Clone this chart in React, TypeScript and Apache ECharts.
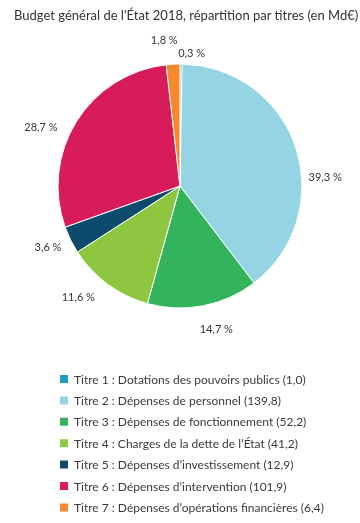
import React, { useEffect, useRef } from "react";
import * as echarts from "echarts";

const titleText = "Budget général de l'État 2018, répartition par titres (en Md€)";
const categories = [
  "Titre 1 : Dotations des pouvoirs publics",
  "Titre 2 : Dépenses de personnel",
  "Titre 3 : Dépenses de fonctionnement",
  "Titre 4 : Charges de la dette de l’État",
  "Titre 5 : Dépenses d’investissement",
  "Titre 6 : Dépenses d’intervention",
  "Titre 7 : Dépenses d’opérations financières",
];
const values = [1.0, 139.8, 52.2, 41.2, 12.9, 101.9, 6.4];
const colors = ["#1a9fc0", "#94d4e3", "#33b45c", "#8dc63f", "#0d4b6e", "#d81c5b", "#f6892b"];
// label nudges (style only), in px
const labelShift: [number, number][] = [
  [-8, -4],
  [0, 31],
  [-10, 15],
  [-3, 6],
  [3, 3],
  [-7, 9],
  [10, -17],
];

const fmt = (v: number, d: number) => v.toFixed(d).replace(".", ",");

export default function App() {
  const ref = useRef<HTMLDivElement>(null);
  useEffect(() => {
    if (!ref.current) return;
    const chart = echarts.init(ref.current, null, { renderer: "svg" });
    const data = categories.map((c, i) => ({ name: c, value: values[i], itemStyle: { color: colors[i] } }));
    chart.setOption({
      animation: false,
      textStyle: { fontFamily: "Lato" },
      title: {
        text: titleText,
        left: 9,
        top: 3,
        textStyle: { fontFamily: "Lato", fontSize: 13, fontWeight: "normal", color: "#333" },
      },
      legend: {
        orient: "vertical",
        left: 53,
        top: 368,
        itemWidth: 10,
        itemHeight: 10,
        itemGap: 9.4,
        icon: "rect",
        data: categories,
        selectedMode: false,
        formatter: (name: string) => {
          const i = categories.indexOf(name);
          return `${name} (${fmt(values[i], 1)})`;
        },
        textStyle: { fontFamily: "Lato", fontSize: 12, color: "#3a3a3a", padding: [0, 0, 0, 0] },
      },
      series: [
        {
          type: "pie",
          center: [180, 186],
          radius: [0, 122],
          startAngle: 90,
          clockwise: true,
          data,
          itemStyle: { borderColor: "#fff", borderWidth: 1 },
          label: {
            show: true,
            position: "outside",
            formatter: (p: any) => `${fmt(p.percent, 1)} %`,
            fontFamily: "Lato",
            fontSize: 11,
            color: "#333",
          },
          labelLine: { show: false, length: 8, length2: 0 },
          labelLayout: (p: any) => ({ dx: labelShift[p.dataIndex][0], dy: labelShift[p.dataIndex][1] }),
          emphasis: { disabled: true },
        },
      ],
    });
    return () => chart.dispose();
  }, []);
  return <div ref={ref} style={{ position: "fixed", left: 0, top: 0, width: 360, height: 523 }} />;
}
